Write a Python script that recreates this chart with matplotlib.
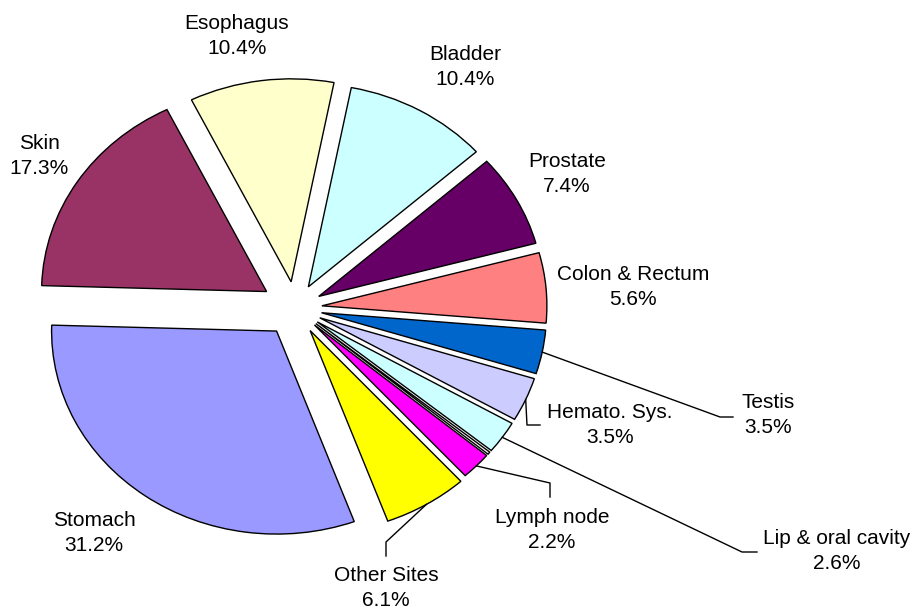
import numpy as np
import matplotlib.pyplot as plt

plt.rcParams['font.family'] = ['Liberation Sans', 'DejaVu Sans']

# slices, clockwise from 12 o'clock
sites = ['Bladder', 'Prostate', 'Colon & Rectum', 'Testis', 'Hemato. Sys.',
         'Lip & oral cavity', '', 'Lymph node', 'Other Sites', 'Stomach',
         'Skin', 'Esophagus']
percent = [10.4, 7.4, 5.6, 3.5, 3.5, 2.6, 0.2, 2.2, 6.1, 31.2, 17.3, 10.4]
colors = ['#CCFFFF', '#660066', '#FF8080', '#0066CC', '#CCCCFF', '#CCFFFF',
          '#FFFFFF', '#FF00FF', '#FFFF00', '#9999FF', '#993366', '#FFFFCC']
explode = [0.12, 0.12, 0.12, 0.12, 0.12, 0.12, 0.12, 0.12, 0.13, 0.14, 0.15, 0.13]

# picture size and pie geometry in pixels (pie is a bit wider than tall)
W, H = 915, 611
CX, CY = 295, 308
RX, RY = 225, 203


def px(x, y):
    return (x - CX) / RX, (CY - y) / RY


# label block centres, pixels
label_pos = {
    'Bladder': (465, 67),
    'Prostate': (567, 174),
    'Colon & Rectum': (633, 287),
    'Testis': (768, 415),
    'Hemato. Sys.': (610, 425),
    'Lip & oral cavity': (837, 551),
    'Lymph node': (552, 530),
    'Other Sites': (386, 588),
    'Stomach': (94, 533),
    'Skin': (39, 156),
    'Esophagus': (237, 36),
}
# leader lines: elbow and end, pixels
leaders = {
    'Testis': [(720, 417), (733, 417)],
    'Hemato. Sys.': [(527, 425), (540, 425)],
    'Lip & oral cavity': [(742, 552), (757, 552)],
    'Lymph node': [(550, 483), (550, 497)],
    'Other Sites': [(386, 542), (386, 556)],
}

fig = plt.figure(figsize=(W / 100, H / 100), dpi=100)
ax = fig.add_axes([0, 0, 1, 1])
wedges, _ = ax.pie(percent, colors=colors, explode=explode, startangle=79,
                   counterclock=False,
                   wedgeprops=dict(edgecolor='black', linewidth=1.0))
ax.set_aspect('auto')
ax.set_xlim(px(0, 0)[0], px(W, 0)[0])
ax.set_ylim(px(0, H)[1], px(0, 0)[1])
ax.axis('off')

for w, name, p in zip(wedges, sites, percent):
    if not name:
        continue
    x, y = px(*label_pos[name])
    ax.text(x, y, '%s\n%.1f%%' % (name, p), ha='center', va='center',
            fontsize=15, linespacing=1.4, color='black')
    if name in leaders:
        t = np.radians((w.theta1 + w.theta2) / 2)
        sx = w.center[0] + w.r * np.cos(t)
        sy = w.center[1] + w.r * np.sin(t)
        pts = [px(*q) for q in leaders[name]]
        ax.plot([sx] + [q[0] for q in pts], [sy] + [q[1] for q in pts],
                color='black', lw=1.0)

fig.savefig('out.png', dpi=100)
